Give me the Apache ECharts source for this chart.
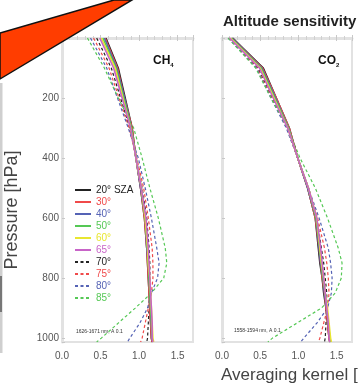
<!DOCTYPE html>
<html>
<head>
<meta charset="utf-8">
<script src="https://cdn.jsdelivr.net/npm/echarts@6/dist/echarts.min.js"></script>
<style>
  html, body { margin: 0; padding: 0; background: #fff; }
  #main { width: 358px; height: 385px; }
</style>
</head>
<body>
<div id="main"></div>
<script>
// pressure levels [hPa]
const levels = [0, 100, 200, 300, 400, 500, 600, 700, 750, 800, 850, 900, 950, 1000, 1013]
const szaNames = ['20° SZA', '30°', '40°', '50°', '60°', '65°', '70°', '75°', '80°', '85°']
const szaColors = ['#222222', '#f04a4a', '#5563b5', '#55c855', '#e8e630', '#c864c8', '#222222', '#f04a4a', '#5563b5', '#55c855']
const xTicks = [0, 0.5, 1.0, 1.5]
const yTicks = [200, 400, 600, 800, 1000]

// CH4 averaging kernels (1626-1671 nm)
const ch4_20 = [0.57, 0.73, 0.82, 0.91, 0.96, 1.02, 1.07, 1.10, 1.11, 1.12, 1.13, 1.14, 1.15, 1.16, 1.17]
const ch4_30 = [0.56, 0.72, 0.81, 0.91, 0.96, 1.02, 1.07, 1.10, 1.11, 1.12, 1.13, 1.14, 1.15, 1.16, 1.17]
const ch4_40 = [0.55, 0.71, 0.81, 0.90, 0.96, 1.02, 1.08, 1.10, 1.12, 1.13, 1.14, 1.15, 1.16, 1.17, 1.18]
const ch4_50 = [0.53, 0.70, 0.80, 0.90, 0.96, 1.03, 1.08, 1.11, 1.12, 1.13, 1.14, 1.15, 1.16, 1.17, 1.18]
const ch4_60 = [0.51, 0.69, 0.79, 0.89, 0.96, 1.03, 1.08, 1.11, 1.12, 1.14, 1.15, 1.16, 1.17, 1.18, 1.19]
const ch4_65 = [0.49, 0.67, 0.78, 0.89, 0.96, 1.03, 1.09, 1.12, 1.13, 1.14, 1.15, 1.16, 1.17, 1.17, 1.18]
const ch4_70 = [0.45, 0.64, 0.76, 0.88, 0.96, 1.04, 1.10, 1.13, 1.14, 1.14, 1.14, 1.13, 1.12, 1.11, 1.10]
const ch4_75 = [0.41, 0.61, 0.74, 0.87, 0.97, 1.06, 1.12, 1.17, 1.18, 1.18, 1.16, 1.12, 1.08, 1.04, 1.02]
const ch4_80 = [0.37, 0.58, 0.72, 0.86, 0.99, 1.08, 1.16, 1.23, 1.26, 1.24, 1.16, 1.11, 1.01, 0.88, 0.85]
const ch4_85 = [0.33, 0.55, 0.73, 0.93, 1.04, 1.14, 1.25, 1.34, 1.36, 1.32, 1.16, 0.95, 0.73, 0.51, 0.45]

// CO2 averaging kernels (1558-1594 nm)
const co2_20 = [0.14, 0.54, 0.71, 0.88, 0.99, 1.12, 1.22, 1.26, 1.28, 1.31, 1.33, 1.36, 1.38, 1.40, 1.41]
const co2_30 = [0.13, 0.53, 0.71, 0.88, 0.99, 1.12, 1.22, 1.27, 1.29, 1.31, 1.34, 1.36, 1.38, 1.40, 1.41]
const co2_40 = [0.13, 0.52, 0.70, 0.87, 0.99, 1.12, 1.23, 1.27, 1.29, 1.32, 1.34, 1.37, 1.39, 1.41, 1.42]
const co2_50 = [0.12, 0.51, 0.69, 0.87, 0.99, 1.13, 1.23, 1.28, 1.30, 1.32, 1.35, 1.37, 1.39, 1.41, 1.42]
const co2_60 = [0.11, 0.50, 0.68, 0.86, 0.99, 1.13, 1.24, 1.28, 1.30, 1.33, 1.35, 1.38, 1.40, 1.42, 1.43]
const co2_65 = [0.10, 0.49, 0.67, 0.86, 0.99, 1.13, 1.24, 1.29, 1.31, 1.33, 1.35, 1.37, 1.39, 1.40, 1.41]
const co2_70 = [0.09, 0.47, 0.66, 0.85, 0.99, 1.13, 1.24, 1.30, 1.33, 1.35, 1.37, 1.37, 1.36, 1.35, 1.34]
const co2_75 = [0.09, 0.46, 0.65, 0.85, 0.99, 1.13, 1.25, 1.34, 1.37, 1.39, 1.40, 1.38, 1.33, 1.28, 1.26]
const co2_80 = [0.08, 0.45, 0.64, 0.84, 0.99, 1.13, 1.27, 1.39, 1.42, 1.44, 1.43, 1.38, 1.24, 1.07, 1.03]
const co2_85 = [0.08, 0.44, 0.64, 0.86, 1.02, 1.22, 1.38, 1.52, 1.57, 1.56, 1.48, 1.30, 0.98, 0.66, 0.60]

const ch4Rows = [ch4_20, ch4_30, ch4_40, ch4_50, ch4_60, ch4_65, ch4_70, ch4_75, ch4_80, ch4_85]
const co2Rows = [co2_20, co2_30, co2_40, co2_50, co2_60, co2_65, co2_70, co2_75, co2_80, co2_85]

const chart = echarts.init(document.getElementById('main'))
const font = 'Liberation Sans, Arial, sans-serif'
const frame = '#e2e2e2'

// one line series per SZA and panel
const makeSeries = (rows, idx) => rows.map((vals, i) => ({
  name: szaNames[i],
  type: 'line',
  xAxisIndex: idx,
  yAxisIndex: idx,
  symbol: 'none',
  silent: true,
  z: i < 6 ? 3 + i : 2,
  lineStyle: {
    color: szaColors[i],
    width: i < 6 ? 1.6 : 1.2,
    type: i < 6 ? 'solid' : [3, 2.5]
  },
  itemStyle: { color: szaColors[i] },
  data: vals.map((v, k) => [v, levels[k]])
}))

const xAxisFor = (gi, showLabel) => ({
  type: 'value', gridIndex: gi, min: 0, max: 1.7, interval: 0.5,
  axisLine: { show: true, lineStyle: { color: frame, width: 3 } },
  axisTick: { show: true, inside: true, length: 3, lineStyle: { color: '#c8c8c8' } },
  minorTick: { show: true, splitNumber: 5, length: 2, lineStyle: { color: '#d0d0d0' } },
  splitLine: { show: false },
  axisLabel: {
    show: showLabel, margin: 9, color: '#555', fontSize: 10, fontFamily: font,
    formatter: v => xTicks.some(t => Math.abs(t - v) < 1e-6) ? v.toFixed(1) : ''
  }
})

const topAxisFor = gi => ({
  type: 'value', gridIndex: gi, position: 'top', min: 0, max: 1.7, interval: 0.5,
  axisLine: { show: true, lineStyle: { color: frame, width: 2 } },
  axisTick: { show: true, inside: true, length: 3, lineStyle: { color: '#c8c8c8' } },
  minorTick: { show: true, splitNumber: 5, length: 2, lineStyle: { color: '#d0d0d0' } },
  splitLine: { show: false },
  axisLabel: { show: false }
})

const yAxisFor = (gi, showLabel) => ({
  type: 'value', gridIndex: gi, min: 0, max: 1013, interval: 200, inverse: true,
  axisLine: { show: true, lineStyle: { color: frame, width: 3 } },
  axisTick: { show: true, inside: true, length: 3, lineStyle: { color: '#c8c8c8' } },
  splitLine: { show: false },
  axisLabel: {
    show: showLabel, margin: 3, color: '#555', fontSize: 10, fontFamily: font,
    formatter: v => yTicks.includes(v) ? String(v) : ''
  }
})

const option = {
  animation: false,
  backgroundColor: '#fff',
  grid: [
    { left: 62, right: 165, top: 38, bottom: 43, show: true, borderColor: frame, borderWidth: 2 },
    { left: 222, right: 6, top: 38, bottom: 43, show: true, borderColor: frame, borderWidth: 2 }
  ],
  xAxis: [xAxisFor(0, true), xAxisFor(1, true), topAxisFor(0), topAxisFor(1)],
  yAxis: [yAxisFor(0, true), yAxisFor(1, false)],
  title: [
    { text: 'Altitude sensitivity', left: 218, top: 9,
      textStyle: { fontSize: 15, fontWeight: 'bold', color: '#222', fontFamily: font } },
    { text: '{m|CH}{s|4}', left: 148, top: 49,
      textStyle: { rich: {
        m: { fontSize: 12, fontWeight: 'bold', color: '#111', fontFamily: font },
        s: { fontSize: 6, fontWeight: 'bold', color: '#111', fontFamily: font, padding: [8, 0, 0, 0] } } } },
    { text: '{m|CO}{s|2}', left: 313, top: 49,
      textStyle: { rich: {
        m: { fontSize: 12, fontWeight: 'bold', color: '#111', fontFamily: font },
        s: { fontSize: 6, fontWeight: 'bold', color: '#111', fontFamily: font, padding: [8, 0, 0, 0] } } } },
    { text: '1626-1671 nm, A 0.1', left: 71, top: 324,
      textStyle: { fontSize: 5, fontWeight: 'normal', color: '#333', fontFamily: font } },
    { text: '1558-1594 nm, A 0.1', left: 229, top: 323,
      textStyle: { fontSize: 5, fontWeight: 'normal', color: '#333', fontFamily: font } },
    { text: 'Averaging kernel [-]', left: 216, top: 362,
      textStyle: { fontSize: 17, fontWeight: 'normal', color: '#444', fontFamily: font } }
  ],
  legend: {
    orient: 'vertical', left: 69, top: 180,
    itemWidth: 16, itemHeight: 10, itemGap: 2,
    selectedMode: false,
    itemStyle: { opacity: 0 },
    textStyle: { fontSize: 10, fontFamily: font },
    data: szaNames.map((n, i) => ({ name: n, textStyle: { color: i === 0 || i === 6 ? '#222' : szaColors[i] } }))
  },
  graphic: [
    // y axis name
    { type: 'text', x: 12, y: 210, rotation: Math.PI / 2,
      style: { text: 'Pressure [hPa]', fontSize: 18, fontFamily: font, fill: '#444', align: 'center', verticalAlign: 'middle' } },
    // edge of the neighbouring panel
    { type: 'line', shape: { x1: 1, y1: 83, x2: 1, y2: 353 }, style: { stroke: '#cfcfcf', lineWidth: 3 } },
    { type: 'line', shape: { x1: 1, y1: 276, x2: 1, y2: 312 }, style: { stroke: '#777', lineWidth: 2 } },
    // red corner banner
    { type: 'polygon', z: 100,
      shape: { points: [[0, 33], [114, 0], [132, 0], [0, 79]] },
      style: { fill: '#ff3d00', stroke: '#111', lineWidth: 1.5 } }
  ],
  series: [...makeSeries(ch4Rows, 0), ...makeSeries(co2Rows, 1)]
}

chart.setOption(option)
</script>
</body>
</html>
